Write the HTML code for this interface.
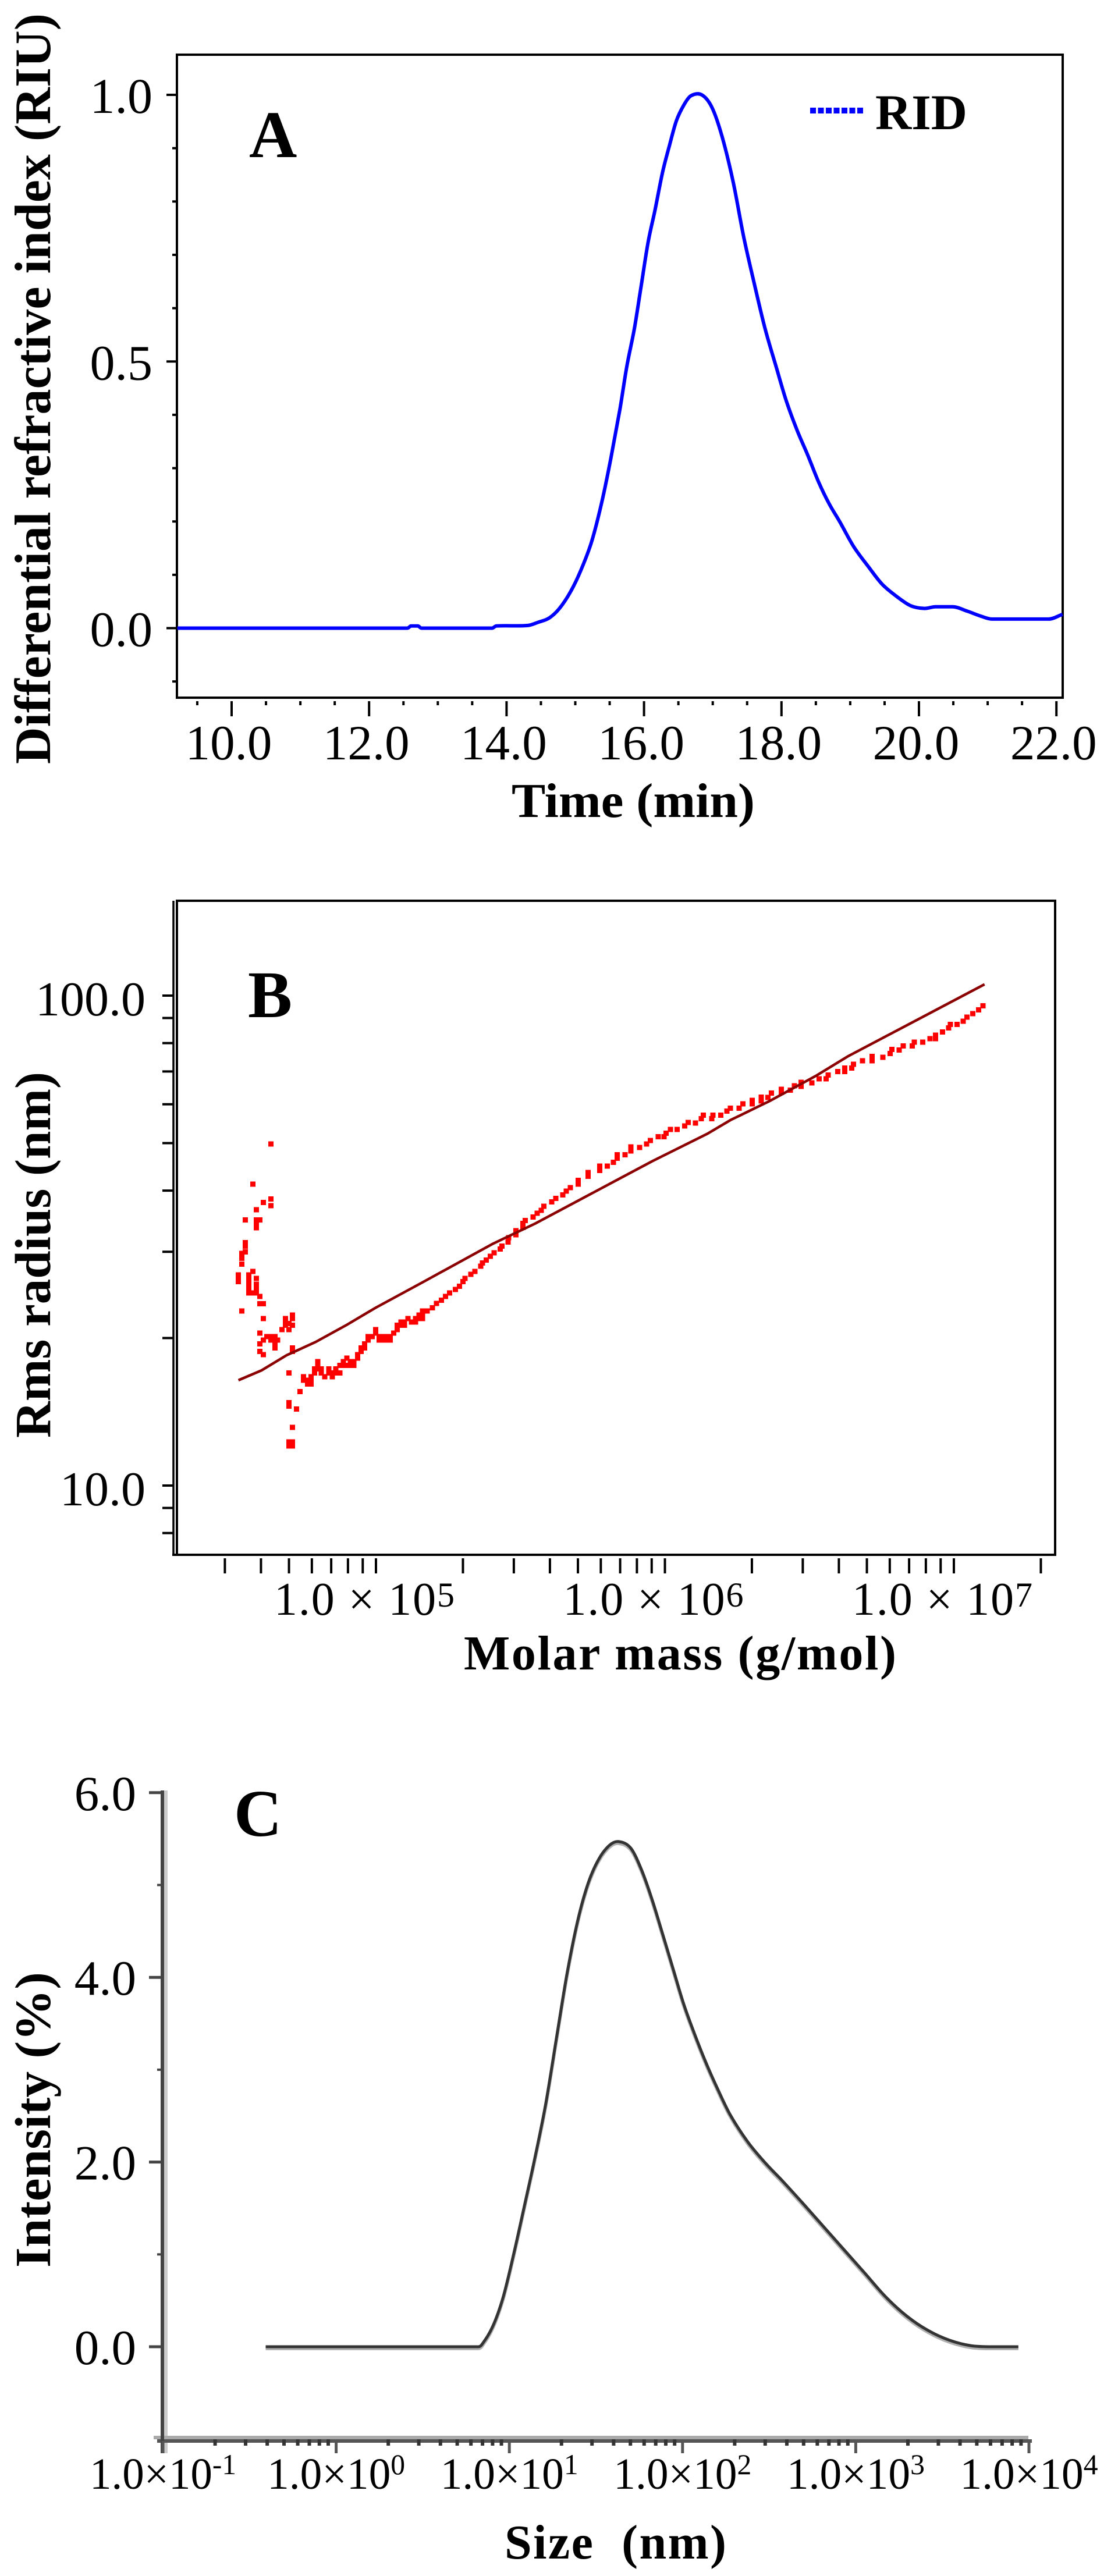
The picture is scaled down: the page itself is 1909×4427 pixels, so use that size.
<!DOCTYPE html>
<html lang="en">
<head>
<meta charset="utf-8">
<title>Panels A, B and C: RID trace, conformation plot and size distribution</title>
<style>
  html, body { margin: 0; padding: 0; background: #fff; }
  svg { display: block; }
  text { font-family: "Liberation Serif", "Times New Roman", serif; fill: #000; }
  .title { font-weight: bold; }
</style>
</head>
<body>
<svg id="figure" xmlns="http://www.w3.org/2000/svg" width="1909" height="4427" viewBox="0 0 1909 4427">
  <rect x="0" y="0" width="1909" height="4427" fill="#fff"/>

  <!-- Panel A -->
  <g id="panelA">
    <rect x="304" y="94" width="1522" height="1105" fill="none" stroke="#000" stroke-width="4"/>
    <text class="title" x="428" y="270" font-size="114">A</text>
    <line id="legendLine" x1="1392" y1="190" x2="1483" y2="190" stroke="#0000ff" stroke-width="10" stroke-dasharray="10 3.5"/>
    <text class="title" x="1504" y="222" font-size="86" textLength="158" lengthAdjust="spacingAndGlyphs">RID</text>
    <text class="title" x="879" y="1404" font-size="84" textLength="418" lengthAdjust="spacingAndGlyphs">Time (min)</text>
    <text class="title" transform="translate(86 1313) rotate(-90)" x="0" y="0" font-size="88" textLength="1290" lengthAdjust="spacingAndGlyphs">Differential refractive index (RIU)</text>
  </g>

  <!-- Panel B -->
  <g id="panelB">
    <rect x="304" y="1548" width="1509" height="1124" fill="none" stroke="#000" stroke-width="4"/>
    <line x1="298" y1="1548" x2="298" y2="2674" stroke="#000" stroke-width="3.5"/>
    <line x1="296" y1="2672" x2="306" y2="2672" stroke="#000" stroke-width="4"/>
    <text class="title" x="426" y="1748" font-size="114">B</text>
    <text class="title" x="797" y="2869" font-size="84" textLength="743" lengthAdjust="spacing">Molar mass (g/mol)</text>
    <text class="title" transform="translate(86 2471) rotate(-90)" x="0" y="0" font-size="87" textLength="629" lengthAdjust="spacingAndGlyphs">Rms radius (nm)</text>
  </g>

  <!-- Panel C -->
  <g id="panelC">
    <rect x="282" y="3077" width="6" height="1139" fill="#cccccc"/>
    <rect x="264" y="4186" width="1503" height="6" fill="#aaaaaa"/>
    <rect x="270" y="4192" width="1503" height="6" fill="#555555"/>
    <rect x="276" y="3077" width="6" height="1139" fill="#444444"/>
    <text class="title" x="402" y="3155" font-size="114">C</text>
    <text class="title" x="867" y="4397" font-size="84" textLength="381" lengthAdjust="spacing" xml:space="preserve">Size&#160;&#160;(nm)</text>
    <text class="title" transform="translate(86 3897) rotate(-90)" x="0" y="0" font-size="87" textLength="508" lengthAdjust="spacingAndGlyphs">Intensity (%)</text>
  </g>
</svg>

<script>
// ---------- Panel A data ----------
const ridTime = [9.21,12.56,12.61,12.71,12.76,13.79,13.85,14.31,14.46,14.62,14.77,14.93,15.08,15.24,15.39,15.52,15.65,15.75,15.86,15.96,16.06,16.16,16.27,16.37,16.47,16.58,16.68,16.84,16.99,17.14,17.30,17.45,17.61,17.76,17.92,18.07,18.23,18.38,18.54,18.69,18.85,19.05,19.26,19.46,19.67,19.88,20.08,20.24,20.49,20.70,20.91,21.06,21.89,22.09];
const ridSignal = [0,0,.004,.004,0,0,.004,.005,.011,.019,.037,.068,.108,.163,.239,.320,.411,.491,.562,.643,.724,.784,.855,.905,.951,.981,.998,1.0,.976,.920,.835,.734,.643,.562,.491,.426,.370,.325,.274,.234,.199,.153,.116,.083,.060,.042,.037,.040,.040,.032,.022,.017,.017,.026];
const timeMajorTicks = [10,12,14,16,18,20,22];
const timeMinorTicks = [9.5,10.5,11,11.5,12.5,13,13.5,14.5,15,15.5,16.5,17,17.5,18.5,19,19.5,20.5,21,21.5];
const timeTickLabels = ["10.0","12.0","14.0","16.0","18.0","20.0","22.0"];
const riuMajorTicks = [1.0,0.5,0.0];
const riuMinorTicks = [0.9,0.8,0.7,0.6,0.4,0.3,0.2,0.1,-0.1];
const riuTickLabels = ["1.0","0.5","0.0"];

// ---------- Panel B data (log10 molar mass, log10 radius) ----------
const pointLogMass = [4.628,4.566,4.628,4.602,4.628,4.578,4.540,4.578,4.590,4.578,4.578,4.540,4.540,4.540,4.528,4.528,4.528,4.566,4.516,4.516,4.516,4.552,4.552,4.552,4.552,4.552,4.578,4.578,4.578,4.578,4.566,4.590,4.590,4.602,4.528,4.602,4.703,4.703,4.679,4.679,4.691,4.679,4.703,4.667,4.691,4.590,4.614,4.628,4.642,4.602,4.628,4.642,4.652,4.590,4.642,4.642,4.590,4.602,4.703,4.703,4.691,4.741,4.741,4.755,4.767,4.755,4.767,4.767,4.779,4.779,4.791,4.791,4.791,4.803,4.803,4.815,4.829,4.829,4.841,4.841,4.853,4.853,4.867,4.867,4.879,4.879,4.891,4.891,4.903,4.915,4.903,4.915,4.929,4.929,4.941,4.941,4.953,4.953,4.965,4.965,4.979,4.991,4.991,5.003,5.003,5.017,5.017,5.029,5.029,5.041,5.041,5.053,5.065,5.065,5.079,5.091,5.079,5.091,5.103,5.115,5.129,5.129,5.141,5.141,5.153,5.153,5.153,4.729,4.691,4.691,4.717,4.703,4.691,4.703,4.691,4.703,5.169,5.187,5.201,5.219,5.233,5.247,5.267,5.281,5.293,5.300,5.320,5.334,5.354,5.361,5.374,5.388,5.401,5.422,5.428,5.449,5.451,5.476,5.476,5.500,5.500,5.509,5.536,5.550,5.564,5.573,5.600,5.614,5.638,5.651,5.665,5.692,5.692,5.726,5.726,5.766,5.766,5.793,5.814,5.827,5.827,5.854,5.874,5.874,5.904,5.929,5.942,5.969,5.989,5.996,6.011,6.034,6.060,6.073,6.098,6.118,6.125,6.154,6.158,6.185,6.206,6.219,6.249,6.262,6.294,6.294,6.325,6.325,6.348,6.361,6.395,6.395,6.426,6.440,6.463,6.463,6.500,6.526,6.550,6.557,6.590,6.614,6.614,6.638,6.645,6.676,6.709,6.709,6.746,6.771,6.777,6.803,6.817,6.848,6.855,6.884,6.909,6.929,6.929,6.953,6.974,6.980,7.003,7.024,7.037,7.057,7.078,7.093];
const pointLogRadius = [1.697,1.615,1.585,1.578,1.571,1.563,1.542,1.542,1.542,1.533,1.526,1.496,1.488,1.477,1.474,1.464,1.452,1.437,1.430,1.423,1.416,1.430,1.420,1.411,1.400,1.393,1.423,1.411,1.400,1.393,1.393,1.386,1.371,1.371,1.356,1.341,1.348,1.341,1.341,1.331,1.331,1.327,1.327,1.318,1.318,1.311,1.304,1.304,1.304,1.297,1.297,1.297,1.297,1.289,1.289,1.281,1.274,1.267,1.281,1.274,1.230,1.222,1.215,1.215,1.215,1.207,1.207,1.222,1.238,1.230,1.253,1.245,1.238,1.238,1.230,1.222,1.238,1.230,1.230,1.222,1.238,1.230,1.230,1.245,1.253,1.245,1.260,1.245,1.253,1.253,1.245,1.245,1.267,1.260,1.281,1.274,1.289,1.281,1.304,1.297,1.304,1.318,1.311,1.304,1.297,1.304,1.297,1.304,1.297,1.304,1.297,1.311,1.327,1.318,1.334,1.334,1.327,1.327,1.341,1.334,1.334,1.341,1.348,1.341,1.356,1.348,1.341,1.192,1.169,1.162,1.156,1.119,1.089,1.089,1.081,1.081,1.356,1.363,1.372,1.378,1.386,1.393,1.400,1.407,1.416,1.423,1.431,1.437,1.448,1.454,1.460,1.468,1.475,1.483,1.489,1.497,1.506,1.512,1.520,1.527,1.535,1.541,1.548,1.556,1.562,1.570,1.579,1.586,1.593,1.601,1.608,1.615,1.623,1.631,1.639,1.643,1.652,1.652,1.660,1.668,1.675,1.675,1.683,1.691,1.690,1.697,1.704,1.712,1.712,1.719,1.727,1.727,1.734,1.741,1.740,1.749,1.756,1.749,1.756,1.756,1.764,1.770,1.770,1.779,1.779,1.786,1.785,1.793,1.792,1.801,1.802,1.809,1.807,1.816,1.815,1.823,1.822,1.830,1.830,1.838,1.845,1.845,1.852,1.852,1.860,1.867,1.867,1.876,1.874,1.882,1.890,1.889,1.897,1.897,1.905,1.905,1.912,1.912,1.919,1.926,1.934,1.941,1.941,1.948,1.956,1.963,1.971,1.979];
const fitLogMass = [4.516,4.596,4.683,4.783,4.891,4.991,5.157,5.395,5.544,5.814,5.948,6.139,6.219,6.355,6.517,6.625,6.834,7.098];
const fitLogRadius = [1.215,1.235,1.266,1.293,1.328,1.363,1.416,1.493,1.535,1.620,1.662,1.718,1.746,1.785,1.837,1.876,1.941,2.023];
const massTicks = [3e4,4e4,5e4,6e4,7e4,8e4,9e4,1e5,2e5,3e5,4e5,5e5,6e5,7e5,8e5,9e5,1e6,2e6,3e6,4e6,5e6,6e6,7e6,8e6,9e6,1e7,2e7];
const massLabelValues = [1e5,1e6,1e7];
const massLabelExponents = ["5","6","7"];
const radiusTicks = [100,90,80,70,60,50,40,30,20,10,9,8];
const radiusLabelValues = [100,10];
const radiusLabels = ["100.0","10.0"];

// ---------- Panel C data (log10 size, intensity %) ----------
const sizeLog = [-.407,.821,.841,.903,.964,1.025,1.087,1.148,1.210,1.271,1.332,1.394,1.455,1.516,1.578,1.631,1.701,1.762,1.823,1.885,1.946,2.007,2.069,2.130,2.191,2.273,2.376,2.478,2.580,2.682,2.805,2.928,3.051,3.173,3.296,3.419,3.542,3.664,3.787,3.939];
const intensityValues = [0,0,.023,.216,.536,1.003,1.527,2.05,2.63,3.33,4.03,4.61,5.02,5.28,5.43,5.47,5.40,5.17,4.85,4.47,4.09,3.71,3.39,3.10,2.84,2.52,2.22,1.99,1.79,1.58,1.32,1.06,.80,.54,.33,.175,.07,.012,0,0];
const sizeDecadeExponents = [-1,0,1,2,3,4];
const sizeMinorMultiples = [2,3,4,5,6,7,8,9];
const intensityMajorTicks = [6,4,2,0];
const intensityMinorTicks = [5,3,1];
const intensityTickLabels = ["6.0","4.0","2.0","0.0"];

// ---------- Axis functions ----------
const xA = t => 398 + (t - 10) * 118.1;
const yA = v => 1079.5 - v * 916.5;
const xB = lm => 650 + (lm - 5) * 496.5;
const yB = lr => 2553 - (lr - 1) * 842;
const xC = ls => 280 + (ls + 1) * 297.6;
const yC = v => 4033 - v * 158.7;

const NS = "http://www.w3.org/2000/svg";
const pA = document.getElementById("panelA");
const pB = document.getElementById("panelB");
const pC = document.getElementById("panelC");

function mk(tag, parent, attrs, txt) {
  const el = document.createElementNS(NS, tag);
  for (const k in attrs) el.setAttribute(k, attrs[k]);
  if (txt !== undefined) el.textContent = txt;
  parent.appendChild(el);
  return el;
}
function pts(xs, ys, fx, fy) {
  return xs.map((x, i) => fx(x).toFixed(1) + "," + fy(ys[i]).toFixed(1)).join(" ");
}
// Smooth path through the data points: cubic Hermite in x, so it never loops back
function smooth(xs, ys, fx, fy) {
  const P = xs.map((x, i) => [fx(x), fy(ys[i])]);
  const n = P.length;
  const slope = i => {
    const a = P[Math.max(i - 1, 0)], b = P[Math.min(i + 1, n - 1)];
    return (b[1] - a[1]) / (b[0] - a[0]);
  };
  const flat = i => (i > 0 && P[i][1] === P[i - 1][1]) || (i < n - 1 && P[i][1] === P[i + 1][1]);
  let d = "M" + P[0][0].toFixed(1) + " " + P[0][1].toFixed(1);
  for (let i = 0; i < n - 1; i++) {
    const h = (P[i + 1][0] - P[i][0]) / 3;
    const m1 = flat(i) ? 0 : slope(i);
    const m2 = flat(i + 1) ? 0 : slope(i + 1);
    d += "C" + (P[i][0] + h).toFixed(1) + " " + (P[i][1] + m1 * h).toFixed(1) + " " +
         (P[i + 1][0] - h).toFixed(1) + " " + (P[i + 1][1] - m2 * h).toFixed(1) + " " +
         P[i + 1][0].toFixed(1) + " " + P[i + 1][1].toFixed(1);
  }
  return d;
}

// ---------- Panel A ----------
timeMajorTicks.forEach((t, i) => {
  const tick = mk("line", pA, {x1: xA(t), x2: xA(t), y1: 1205, y2: 1231, stroke: "#000", "stroke-width": 4});
  
  
  const lab = mk("text", pA, {x: xA(t) - 5, y: 1305, "font-size": 85, "text-anchor": "middle"}, timeTickLabels[i]);
  
  
});
timeMinorTicks.forEach(t => {
  const tick = mk("line", pA, {x1: xA(t), x2: xA(t), y1: 1205, y2: 1212, stroke: "#000", "stroke-width": 4});
  
  
});
riuMajorTicks.forEach((v, i) => {
  const tick = mk("line", pA, {x1: 286, x2: 302, y1: yA(v), y2: yA(v), stroke: "#000", "stroke-width": 4});
  
  
  const lab = mk("text", pA, {x: 262, y: yA(v) + 31, "font-size": 86, "text-anchor": "end"}, riuTickLabels[i]);
  
  
});
riuMinorTicks.forEach(v => {
  const tick = mk("line", pA, {x1: 296, x2: 302, y1: yA(v), y2: yA(v), stroke: "#000", "stroke-width": 4});
  
  
});
const ridLine = mk("path", pA, {d: smooth(ridTime, ridSignal, xA, yA), fill: "none", stroke: "#0000ff", "stroke-width": 6, "stroke-linejoin": "round"});



// ---------- Panel B ----------
massTicks.forEach(m => {
  const x = xB(Math.log10(m)) - 4;
  const tick = mk("line", pB, {x1: x, x2: x, y1: 2678, y2: 2704, stroke: "#000", "stroke-width": 4});
  
  
});
massLabelValues.forEach((m, i) => {
  const lab = mk("text", pB, {x: xB(Math.log10(m)) - 24, y: 2775, "font-size": 80, "text-anchor": "middle", "xml:space": "preserve", textLength: 310, lengthAdjust: "spacing"});
  
  
  mk("tspan", lab, {}, "1.0 × 10");
  mk("tspan", lab, {"font-size": 60, dy: -14}, massLabelExponents[i]);
});
radiusTicks.forEach(r => {
  const y = yB(Math.log10(r));
  const tick = mk("line", pB, {x1: 279, x2: 297, y1: y, y2: y, stroke: "#000", "stroke-width": 4});
  
  
});
radiusLabelValues.forEach((r, i) => {
  const lab = mk("text", pB, {x: 250, y: yB(Math.log10(r)) + 34, "font-size": 84, "text-anchor": "end"}, radiusLabels[i]);
  
  
});
pointLogMass.forEach((lm, i) => {
  const pt = mk("rect", pB, {x: (xB(lm) - 4.5).toFixed(1), y: (yB(pointLogRadius[i]) - 4.5).toFixed(1), width: 9, height: 9, fill: "#ff0000", "shape-rendering": "crispEdges"});
  
  
});
const fitLine = mk("polyline", pB, {points: pts(fitLogMass, fitLogRadius, xB, yB), fill: "none", stroke: "#8b0000", "stroke-width": 4.5});



// ---------- Panel C ----------
sizeDecadeExponents.forEach((e, i) => {
  const x = xC(e);
  const tick = mk("line", pC, {x1: x, x2: x, y1: 4195, y2: 4216, stroke: "#555", "stroke-width": 5});
  
  
  const lab = mk("text", pC, {x: x, y: 4277, "font-size": 76, "text-anchor": "middle", textLength: e < 0 ? 252 : 237, lengthAdjust: "spacingAndGlyphs"});
  
  
  mk("tspan", lab, {}, "1.0×10");
  mk("tspan", lab, {"font-size": 50, dy: -25}, String(e));
  if (i < sizeDecadeExponents.length - 1) {
    sizeMinorMultiples.forEach(m => {
      const mx = xC(e + Math.log10(m));
      const minor = mk("line", pC, {x1: mx, x2: mx, y1: 4192, y2: 4203, stroke: "#333", "stroke-width": 6});
      
      
    });
  }
});
intensityMajorTicks.forEach((v, i) => {
  const tick = mk("line", pC, {x1: 256, x2: 278, y1: yC(v), y2: yC(v), stroke: "#444", "stroke-width": 5});
  
  
  const lab = mk("text", pC, {x: 234, y: yC(v) + 30, "font-size": 85, "text-anchor": "end"}, intensityTickLabels[i]);
  
  
});
intensityMinorTicks.forEach(v => {
  const tick = mk("line", pC, {x1: 270, x2: 278, y1: yC(v), y2: yC(v), stroke: "#444", "stroke-width": 4});
  
  
});
const shadow = mk("path", pC, {d: smooth(sizeLog, intensityValues, xC, yC), fill: "none", stroke: "#b0b0b0", "stroke-width": 6, transform: "translate(0 3)"});


const sizeLine = mk("path", pC, {d: smooth(sizeLog, intensityValues, xC, yC), fill: "none", stroke: "#333", "stroke-width": 5, "stroke-linejoin": "round"});


</script>
</body>
</html>
